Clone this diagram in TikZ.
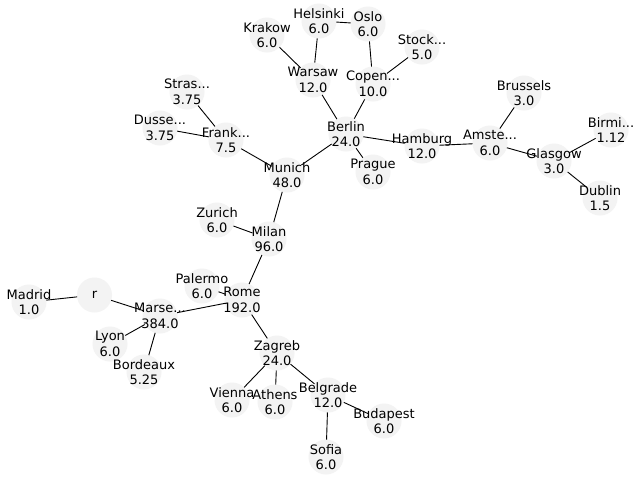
\documentclass[tikz,border=0pt]{standalone}
\usepackage{fontspec}
\setmainfont{DejaVu Sans}
\definecolor{nodefill}{HTML}{F3F3F3}
\begin{document}
\begin{tikzpicture}[x=1pt,y=-1pt,
  city/.style={circle,fill=nodefill,draw=none,minimum size=35pt,inner sep=0pt,outer sep=0pt},
  txt/.style={align=center,inner sep=0pt,font=\fontsize{13}{15.5}\selectfont},
  edge/.style={draw=black,line width=0.9pt}]
\fill[white] (0,0) rectangle (640,480);
\useasboundingbox (0,0) rectangle (640,480);
% circles
\node[city] (hel) at (319,21) {};
\node[city] (osl) at (368,24) {};
\node[city] (kra) at (267,35) {};
\node[city] (sto) at (422,47) {};
\node[city] (war) at (313,80) {};
\node[city] (cop) at (373,84) {};
\node[city] (bru) at (524,93) {};
\node[city] (str) at (187,92) {};
\node[city] (dus) at (160,128) {};
\node[city] (fra) at (226,140) {};
\node[city] (ber) at (346,134) {};
\node[city] (ham) at (422,146) {};
\node[city] (ams) at (490,143) {};
\node[city] (bir) at (611,130) {};
\node[city] (gla) at (554,161) {};
\node[city] (pra) at (373,172) {};
\node[city] (mun) at (287,175) {};
\node[city] (dub) at (600,198) {};
\node[city] (zur) at (217,220) {};
\node[city] (mil) at (269,239) {};
\node[city] (pal) at (202,286) {};
\node[city] (rom) at (242,300) {};
\node[city] (r) at (94.5,295) {};
\node[city] (mad) at (29,302) {};
\node[city] (mar) at (160,316) {};
\node[city] (lyo) at (110,344) {};
\node[city] (bor) at (144,372) {};
\node[city] (zag) at (277,353) {};
\node[city] (vie) at (232,400) {};
\node[city] (ath) at (275,402) {};
\node[city] (bel) at (328,395) {};
\node[city] (bud) at (384,421) {};
\node[city] (sof) at (326,457) {};
% edges
\path[edge] (hel) -- (osl);
\path[edge] (hel) -- (war);
\path[edge] (kra) -- (war);
\path[edge] (osl) -- (cop);
\path[edge] (sto) -- (cop);
\path[edge] (war) -- (ber);
\path[edge] (cop) -- (ber);
\path[edge] (ber) -- (ham);
\path[edge] (ber) -- (pra);
\path[edge] (ber) -- (mun);
\path[edge] (ham) -- (ams);
\path[edge] (ams) -- (bru);
\path[edge] (ams) -- (gla);
\path[edge] (gla) -- (bir);
\path[edge] (gla) -- (dub);
\path[edge] (str) -- (fra);
\path[edge] (dus) -- (fra);
\path[edge] (fra) -- (mun);
\path[edge] (mun) -- (mil);
\path[edge] (zur) -- (mil);
\path[edge] (mil) -- (rom);
\path[edge] (pal) -- (rom);
\path[edge] (rom) -- (mar);
\path[edge] (mar) -- (r);
\path[edge] (mar) -- (lyo);
\path[edge] (mar) -- (bor);
\path[edge] (r) -- (mad);
\path[edge] (rom) -- (zag);
\path[edge] (zag) -- (vie);
\path[edge] (zag) -- (ath);
\path[edge] (zag) -- (bel);
\path[edge] (bel) -- (bud);
\path[edge] (bel) -- (sof);
% labels
\node[txt] (hel-t) at (hel) {Helsinki\\6.0};
\node[txt] (osl-t) at (osl) {Oslo\\6.0};
\node[txt] (kra-t) at (kra) {Krakow\\6.0};
\node[txt] (sto-t) at (sto) {Stock...\\5.0};
\node[txt] (war-t) at (war) {Warsaw\\12.0};
\node[txt] (cop-t) at (cop) {Copen...\\10.0};
\node[txt] (bru-t) at (bru) {Brussels\\3.0};
\node[txt] (str-t) at (str) {Stras...\\3.75};
\node[txt] (dus-t) at (dus) {Dusse...\\3.75};
\node[txt] (fra-t) at (fra) {Frank...\\7.5};
\node[txt] (ber-t) at (ber) {Berlin\\24.0};
\node[txt] (ham-t) at (ham) {Hamburg\\12.0};
\node[txt] (ams-t) at (ams) {Amste...\\6.0};
\node[txt] (bir-t) at (bir) {Birmi...\\1.12};
\node[txt] (gla-t) at (gla) {Glasgow\\3.0};
\node[txt] (pra-t) at (pra) {Prague\\6.0};
\node[txt] (mun-t) at (mun) {Munich\\48.0};
\node[txt] (dub-t) at (dub) {Dublin\\1.5};
\node[txt] (zur-t) at (zur) {Zurich\\6.0};
\node[txt] (mil-t) at (mil) {Milan\\96.0};
\node[txt] (pal-t) at (pal) {Palermo\\6.0};
\node[txt] (rom-t) at (rom) {Rome\\192.0};
\node[txt] (r-t) at (r) {r};
\node[txt] (mad-t) at (mad) {Madrid\\1.0};
\node[txt] (mar-t) at (mar) {Marse...\\384.0};
\node[txt] (lyo-t) at (lyo) {Lyon\\6.0};
\node[txt] (bor-t) at (bor) {Bordeaux\\5.25};
\node[txt] (zag-t) at (zag) {Zagreb\\24.0};
\node[txt] (vie-t) at (vie) {Vienna\\6.0};
\node[txt] (ath-t) at (ath) {Athens\\6.0};
\node[txt] (bel-t) at (bel) {Belgrade\\12.0};
\node[txt] (bud-t) at (bud) {Budapest\\6.0};
\node[txt] (sof-t) at (sof) {Sofia\\6.0};
\end{tikzpicture}
\end{document}
